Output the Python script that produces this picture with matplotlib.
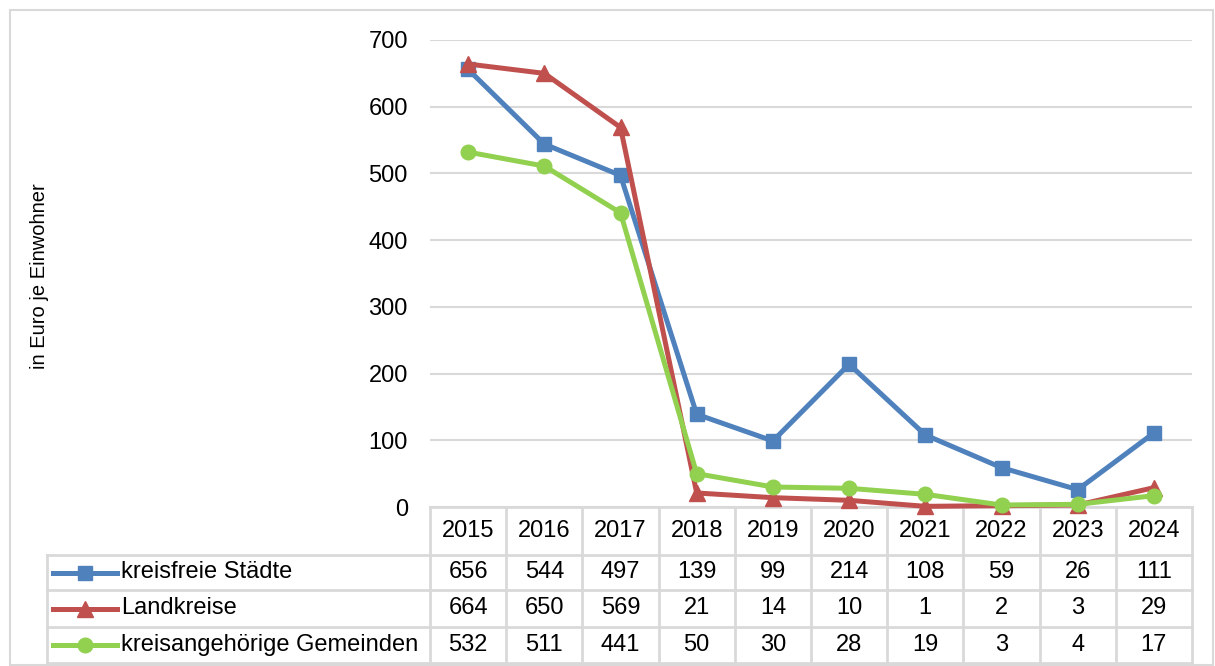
import matplotlib
matplotlib.use("Agg")
import matplotlib.pyplot as plt
import matplotlib.transforms as mtransforms
from matplotlib.patches import Rectangle

plt.rcParams['font.family'] = ['Liberation Sans', 'DejaVu Sans']

years = ['2015', '2016', '2017', '2018', '2019', '2020', '2021', '2022', '2023', '2024']
series_names = ['kreisfreie Städte', 'Landkreise', 'kreisangehörige Gemeinden']
staedte = [656, 544, 497, 139, 99, 214, 108, 59, 26, 111]
landkreise = [664, 650, 569, 21, 14, 10, 1, 2, 3, 29]
gemeinden = [532, 511, 441, 50, 30, 28, 19, 3, 4, 17]
y_label = 'in Euro je Einwohner'

series = [staedte, landkreise, gemeinden]
colors = ['#4F81BD', '#C0504D', '#92D050']
markers = ['s', '^', 'o']
msizes = [10.5, 11.5, 10.5]

W, H = 1215, 666
fig = plt.figure(figsize=(W / 100, H / 100), dpi=100)

# plot area in pixel coords of the reference
L, R, T, B = 430, 1192, 40, 507
ax = fig.add_axes([L / W, 1 - B / H, (R - L) / W, (B - T) / H])

def ax_x(px):
    return (px - L) / (R - L)

def ax_y(py):
    return (B - py) / (B - T)

grid_c = '#D9D9D9'
fs = 17
xs = list(range(len(years)))
for vals, c, m, ms in zip(series, colors, markers, msizes):
    ax.plot(xs, vals, color=c, lw=3.6, marker=m, ms=ms, clip_on=False, zorder=3)

ax.set_xlim(-0.5, len(years) - 0.5)
ax.set_ylim(0, 700)
ax.set_yticks(range(0, 701, 100))
ax.set_xticks([])
ax.tick_params(axis='y', length=0, pad=16, labelsize=fs)
ax.yaxis.grid(True, color=grid_c, lw=1.5)
ax.set_axisbelow(True)
for s in ax.spines.values():
    s.set_visible(False)

fig.text(40 / W, 1 - 276 / H, y_label, rotation=90, ha='center', va='center', fontsize=14.5)

# data table below the plot
trans = mtransforms.blended_transform_factory(ax.transData, ax.transAxes)
row_lines = [507, 555, 590, 627, 663]
ry = [ax_y(p) for p in row_lines]
kw = dict(color=grid_c, lw=2, clip_on=False, zorder=1)

# horizontal lines
ax.plot([0, 1], [ry[0], ry[0]], transform=ax.transAxes, **kw)
for y in ry[1:]:
    ax.plot([ax_x(47), 1], [y, y], transform=ax.transAxes, **kw)
# vertical lines
for k in range(len(years) + 1):
    ax.plot([k - 0.5, k - 0.5], [ry[0], ry[-1]], transform=trans, **kw)
ax.plot([ax_x(47), ax_x(47)], [ry[1], ry[-1]], transform=ax.transAxes, **kw)

for i, yr in enumerate(years):
    ax.text(i, (ry[0] + ry[1]) / 2, yr, transform=trans, ha='center', va='center', fontsize=fs)
for r, (name, vals, c, m, ms) in enumerate(zip(series_names, series, colors, markers, msizes)):
    yc = (ry[r + 1] + ry[r + 2]) / 2
    ax.plot([ax_x(53), ax_x(117)], [yc, yc], transform=ax.transAxes, color=c, lw=3.6,
            clip_on=False, zorder=3)
    ax.plot([ax_x(85)], [yc], transform=ax.transAxes, color=c, marker=m, ms=ms,
            clip_on=False, zorder=3)
    ax.text(ax_x(121), yc, name, transform=ax.transAxes, ha='left', va='center', fontsize=fs)
    for i, v in enumerate(vals):
        ax.text(i, yc, str(v), transform=trans, ha='center', va='center', fontsize=fs)

# outer frame
fig.patches.append(Rectangle((10 / W, 1 - 665 / H), (1213 - 10) / W, (665 - 10) / H,
                             transform=fig.transFigure, fill=False, ec=grid_c, lw=1.5))

fig.savefig('out.png', dpi=100)
